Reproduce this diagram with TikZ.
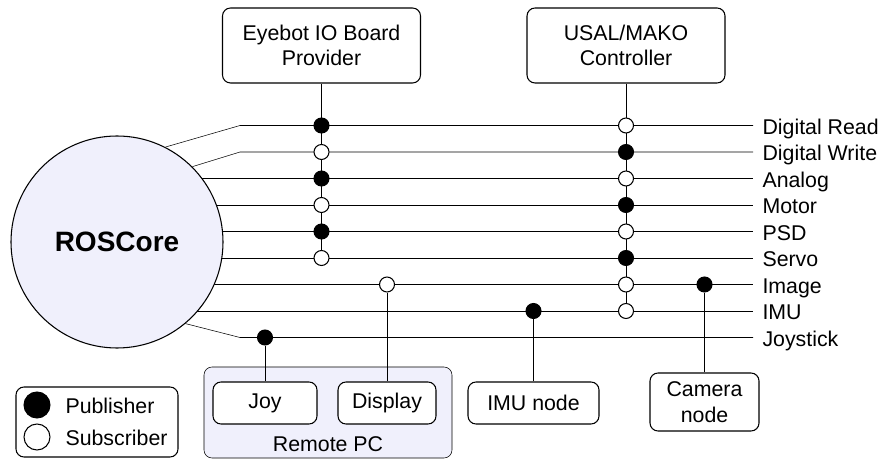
\documentclass[tikz,border=0pt]{standalone}
\usepackage{fontspec}
\setmainfont{Liberation Sans}
\usetikzlibrary{backgrounds}
\definecolor{lavender}{RGB}{240,240,252}
\tikzset{
    pub/.style={circle, draw, fill=black, inner sep=0pt, minimum size=11.25pt}, % publisher dot
    sub/.style={circle, draw, fill=white, inner sep=0pt, minimum size=11.25pt}, % subscriber dot
    box/.style={draw, rounded corners=6pt, fill=white, align=center, inner sep=0pt}, % ROS nodes
    topic/.style={anchor=base west, inner sep=0pt} % topic names
}

\begin{document}
\begin{tikzpicture}[x=0.75pt, y=-0.75pt, line width=0.8pt, font=\fontsize{16}{19}\selectfont]
    \useasboundingbox (0,0) rectangle (885,459);

    \node[circle, draw, fill=lavender, minimum size=159pt, font=\fontsize{21}{24}\selectfont\bfseries] (ros) at (117,242) {ROSCore};

    % topics
    \foreach \t/\lab [count=\i from 0] in {dr/Digital Read, dw/Digital Write, an/Analog, mo/Motor, psd/PSD, se/Servo, im/Image, imu/IMU, joy/Joystick} {
        \coordinate (\t) at (753,125.5+26.5*\i);
        \node[topic] (\t-l) at (762,134.5+26.5*\i) {\lab};
    }

    \node[box, minimum width=198*0.75pt, minimum height=75*0.75pt] (eye) at (321.5,45.5) {Eyebot IO Board\\Provider};
    \node[box, minimum width=198*0.75pt, minimum height=75*0.75pt] (usal) at (626,45.5) {USAL/MAKO\\Controller};
    \node[box, minimum width=104*0.75pt, minimum height=42*0.75pt] (joyb) at (265,403) {Joy};
    \node[box, minimum width=98*0.75pt, minimum height=42*0.75pt] (dispb) at (387,403) {Display};
    \node[box, minimum width=131*0.75pt, minimum height=42*0.75pt] (imub) at (533.5,403) {IMU node};
    \node[box, minimum width=109*0.75pt, minimum height=58*0.75pt] (camb) at (704.5,402) {Camera\\node};
    \node[anchor=base] (rpc-l) at (328,451) {Remote PC};

    % publishers and subscribers
    \foreach \t in {dr, an, psd} \node[pub] (e-\t) at (\t -| eye) {};
    \foreach \t in {dw, mo, se} \node[sub] (e-\t) at (\t -| eye) {};
    \foreach \t in {dw, mo, se} \node[pub] (u-\t) at (\t -| usal) {};
    \foreach \t in {dr, an, psd, im, imu} \node[sub] (u-\t) at (\t -| usal) {};
    \node[pub] (j-joy) at (joy -| joyb) {};
    \node[sub] (d-im) at (im -| dispb) {};
    \node[pub] (m-imu) at (imu -| imub) {};
    \node[pub] (c-im) at (im -| camb) {};

    % legend
    \node[draw, rounded corners=6pt, minimum width=162*0.75pt, minimum height=70*0.75pt] (leg) at (97,422) {};
    \node[pub, minimum size=19.5pt] (leg-p) at (37,405) {};
    \node[sub, minimum size=19.5pt] (leg-s) at (37,437) {};
    \node[topic] (leg-pl) at (65,413) {Publisher};
    \node[topic] (leg-sl) at (65,445) {Subscriber};

    \begin{scope}[on background layer]
        \node[draw, rounded corners=6pt, fill=lavender, minimum width=248*0.75pt, minimum height=91*0.75pt] (rpc) at (328,412.5) {};
        \foreach \t in {an, mo, psd, se, im, imu} \draw (ros.center |- \t) -- (\t);
        \draw (ros.63) -- (240,125.5) -- (dr);
        \draw (ros.45) -- (240,152) -- (dw);
        \draw (ros.-50) -- (240,337.5) -- (joy);
        \draw (eye) -- (e-se);
        \draw (usal) -- (u-imu);
        \draw (j-joy) -- (joyb);
        \draw (d-im) -- (dispb);
        \draw (m-imu) -- (imub);
        \draw (c-im) -- (camb);
    \end{scope}
\end{tikzpicture}
\end{document}
